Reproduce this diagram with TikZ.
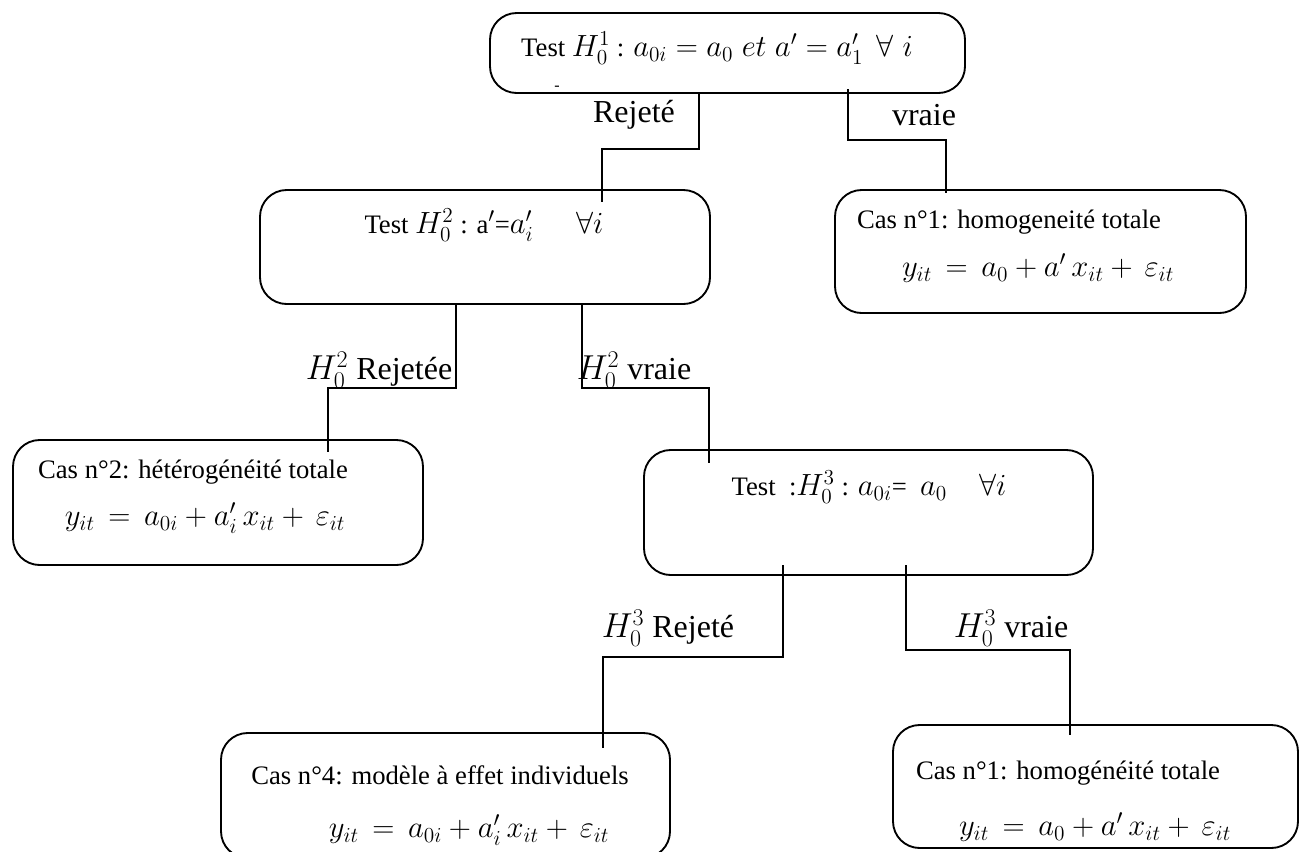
\RequirePackage{fix-cm}
\documentclass[tikz,border=0pt]{standalone}
\usepackage{fontspec}
\setmainfont{Liberation Serif}
\usetikzlibrary{fit}
% maths un peu plus grandes que le texte (comme Cambria Math)
\DeclareMathSizes{20}{23}{16}{12}
\DeclareMathSizes{24}{26}{18}{13}

\tikzset{
  boite/.style={draw,rounded corners=20,inner sep=0pt,outer sep=0pt},
  lien/.style={draw},
  texte/.style={font=\fontsize{20}{24}\selectfont,inner sep=0pt},
  etiq/.style={font=\fontsize{24}{29}\selectfont,inner sep=0pt},
}

\begin{document}
\begin{tikzpicture}[x=0.75pt,y=-0.75pt,line width=1.4pt]
  % 1 unit = 1 px of the 1306x851 page
  \useasboundingbox (0,0) rectangle (1306,851);

  % boites
  \node[boite,fit={(490,13)(965,93)}]   (haut)  {};
  \node[boite,fit={(260,190)(710,304)}] (test2) {};
  \node[boite,fit={(835,190)(1246,313)}](cas1)  {};
  \node[boite,fit={(13,440)(423,565)}]  (cas2)  {};
  \node[boite,fit={(644,450)(1093,575)}](test3) {};
  \node[boite,fit={(221,733)(670,858)}] (cas4)  {};
  \node[boite,fit={(893,725)(1298,848)}](cas1b) {};

  % textes des boites
  \node[texte] (t-haut) at (717,48)
    {Test $H_0^1$ : $a_{0i}=a_0\;et\;a'=a'_1\;\,\forall\;i$};
  \node[font=\fontsize{12}{12}\selectfont,inner sep=0pt] (tiret) at (557,88) {-};
  \node[texte] (t-test2) at (484,225)
    {Test $H_0^2$ : a$'$=$a'_i$\hspace{1.6em}$\forall i$};
  \node[texte] (t-cas1) at (1009,222) {Cas n°1: homogeneité totale};
  \node[texte] (f-cas1) at (1038,268)
    {$y_{it}\,=\,a_0+a'\,x_{it}+\,\varepsilon_{it}$};
  \node[texte] (t-cas2) at (193,472) {Cas n°2: hétérogénéité totale};
  \node[texte] (f-cas2) at (205,518)
    {$y_{it}\,=\,a_{0i}+a'_i\,x_{it}+\,\varepsilon_{it}$};
  \node[texte] (t-test3) at (869,487)
    {Test\ \ :$H_0^3$ : $a_{0i}$=\ \ $a_0$\hspace{1.2em}$\forall i$};
  \node[texte] (t-cas4) at (440,775) {Cas n°4: modèle à effet individuels};
  \node[texte] (f-cas4) at (469,830)
    {$y_{it}\,=\,a_{0i}+a'_i\,x_{it}+\,\varepsilon_{it}$};
  \node[texte] (t-cas1b) at (1068,773) {Cas n°1: homogénéité totale};
  \node[texte] (f-cas1b) at (1095,827)
    {$y_{it}\,=\,a_0+a'\,x_{it}+\,\varepsilon_{it}$};

  % etiquettes des branches
  \node[etiq] (l-rej1) at (634,115) {Rejeté};
  \node[etiq] (l-vr1)  at (924,115) {vraie};
  \node[etiq] (l-rej2) at (379,370) {$H_0^2$ Rejetée};
  \node[etiq] (l-vr2)  at (634,370) {$H_0^2$ vraie};
  \node[etiq] (l-rej3) at (668,628) {$H_0^3$ Rejeté};
  \node[etiq] (l-vr3)  at (1011,628) {$H_0^3$ vraie};

  % bouts des liens (entrent un peu dans les boites)
  \coordinate (a1) at (699,93);  \coordinate (b1) at (602,202);
  \coordinate (a2) at (848,89);  \coordinate (b2) at (946,193);
  \coordinate (a3) at (456,304); \coordinate (b3) at (328,452);
  \coordinate (a4) at (582,304); \coordinate (b4) at (709,463);
  \coordinate (a5) at (783,565); \coordinate (b5) at (603,748);
  \coordinate (a6) at (906,565); \coordinate (b6) at (1070,735);

  % liens en escalier
  \draw[lien] (haut.south -| a1) -- ++(0,56) -| (b1);
  \draw[lien] (a2) -- ++(0,51) -| (b2);
  \draw[lien] (test2.south -| a3) -- ++(0,84) -| (b3);
  \draw[lien] (test2.south -| a4) -- ++(0,84) -| (b4);
  \draw[lien] (a5) -- ++(0,92) -| (b5);
  \draw[lien] (a6) -- ++(0,85) -| (b6);
\end{tikzpicture}
\end{document}
